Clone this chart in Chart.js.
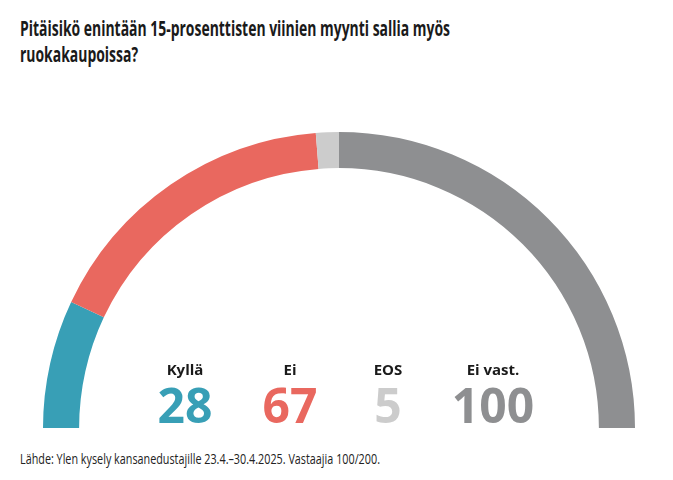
<!DOCTYPE html>
<html>
<head>
<meta charset="utf-8">
<script src="https://cdn.jsdelivr.net/npm/chart.js@4.4.1/dist/chart.umd.min.js"></script>
<style>
  html, body { margin: 0; padding: 0; background: #fff; }
  body { width: 673px; height: 480px; position: relative; overflow: hidden; font-family: "Open Sans", "Noto Sans", sans-serif; color: #1a1a1a; }
  #title { position: absolute; left: 20px; top: 15px; font-weight: 700; font-size: 21px; line-height: 26px; white-space: nowrap; transform-origin: 0 0; }
  #wrap { position: absolute; left: 43px; top: 132px; width: 592px; height: 296px; }
  .lab { position: absolute; font-weight: 700; font-size: 15px; line-height: 1; white-space: nowrap; transform: translateX(-50%); color: #1a1a1a; }
  .num { position: absolute; font-weight: 700; font-size: 48px; line-height: 1; white-space: nowrap; transform: translateX(-50%); }
  #src { position: absolute; left: 20px; top: 449px; font-size: 15px; line-height: 18px; white-space: nowrap; transform-origin: 0 0; color: #222; }
</style>
</head>
<body>
<div id="title">Pitäisikö enintään 15-prosenttisten viinien myynti sallia myös<br>ruokakaupoissa?</div>
<div id="wrap"><canvas id="c"></canvas></div>
<div id="labels"></div>
<div id="src">Lähde: Ylen kysely kansanedustajille 23.4.–30.4.2025. Vastaajia 100/200.</div>
<script>
const categories = ["Kyllä", "Ei", "EOS", "Ei vast."];
const values = [28, 67, 5, 100];
const colors = ["#389fb6", "#e9685f", "#cccccc", "#8e8f91"];
const labelCenters = [185, 290, 388, 493];

function fitWidth(el, target) {
  const w = el.getBoundingClientRect().width;
  el.style.transform = "scaleX(" + (target / w) + ")";
}
const t = document.getElementById("title");
const firstLine = document.createElement("span");
firstLine.textContent = "Pitäisikö enintään 15-prosenttisten viinien myynti sallia myös";
firstLine.style.cssText = "position:absolute;visibility:hidden;font-weight:700;font-size:21px;white-space:nowrap;font-family:inherit";
document.body.appendChild(firstLine);
const fw = firstLine.getBoundingClientRect().width;
firstLine.remove();
t.style.transform = "scaleX(" + (430 / fw) + ")";
fitWidth(document.getElementById("src"), 360);

const labelsDiv = document.getElementById("labels");
categories.forEach((c, i) => {
  const l = document.createElement("div");
  l.className = "lab";
  l.textContent = c;
  l.style.left = labelCenters[i] + "px";
  l.style.top = "362px";
  labelsDiv.appendChild(l);
  const n = document.createElement("div");
  n.className = "num";
  n.textContent = values[i];
  n.style.left = labelCenters[i] + "px";
  n.style.top = "381px";
  n.style.color = colors[i];
  labelsDiv.appendChild(n);
});

new Chart(document.getElementById("c"), {
  type: "doughnut",
  data: {
    labels: categories,
    datasets: [{ data: values, backgroundColor: colors, borderWidth: 0 }]
  },
  options: {
    responsive: true,
    maintainAspectRatio: false,
    animation: false,
    rotation: -90,
    circumference: 180,
    cutout: "87.8%",
    layout: { padding: 0 },
    plugins: { legend: { display: false }, tooltip: { enabled: false } }
  }
});
</script>
</body>
</html>
